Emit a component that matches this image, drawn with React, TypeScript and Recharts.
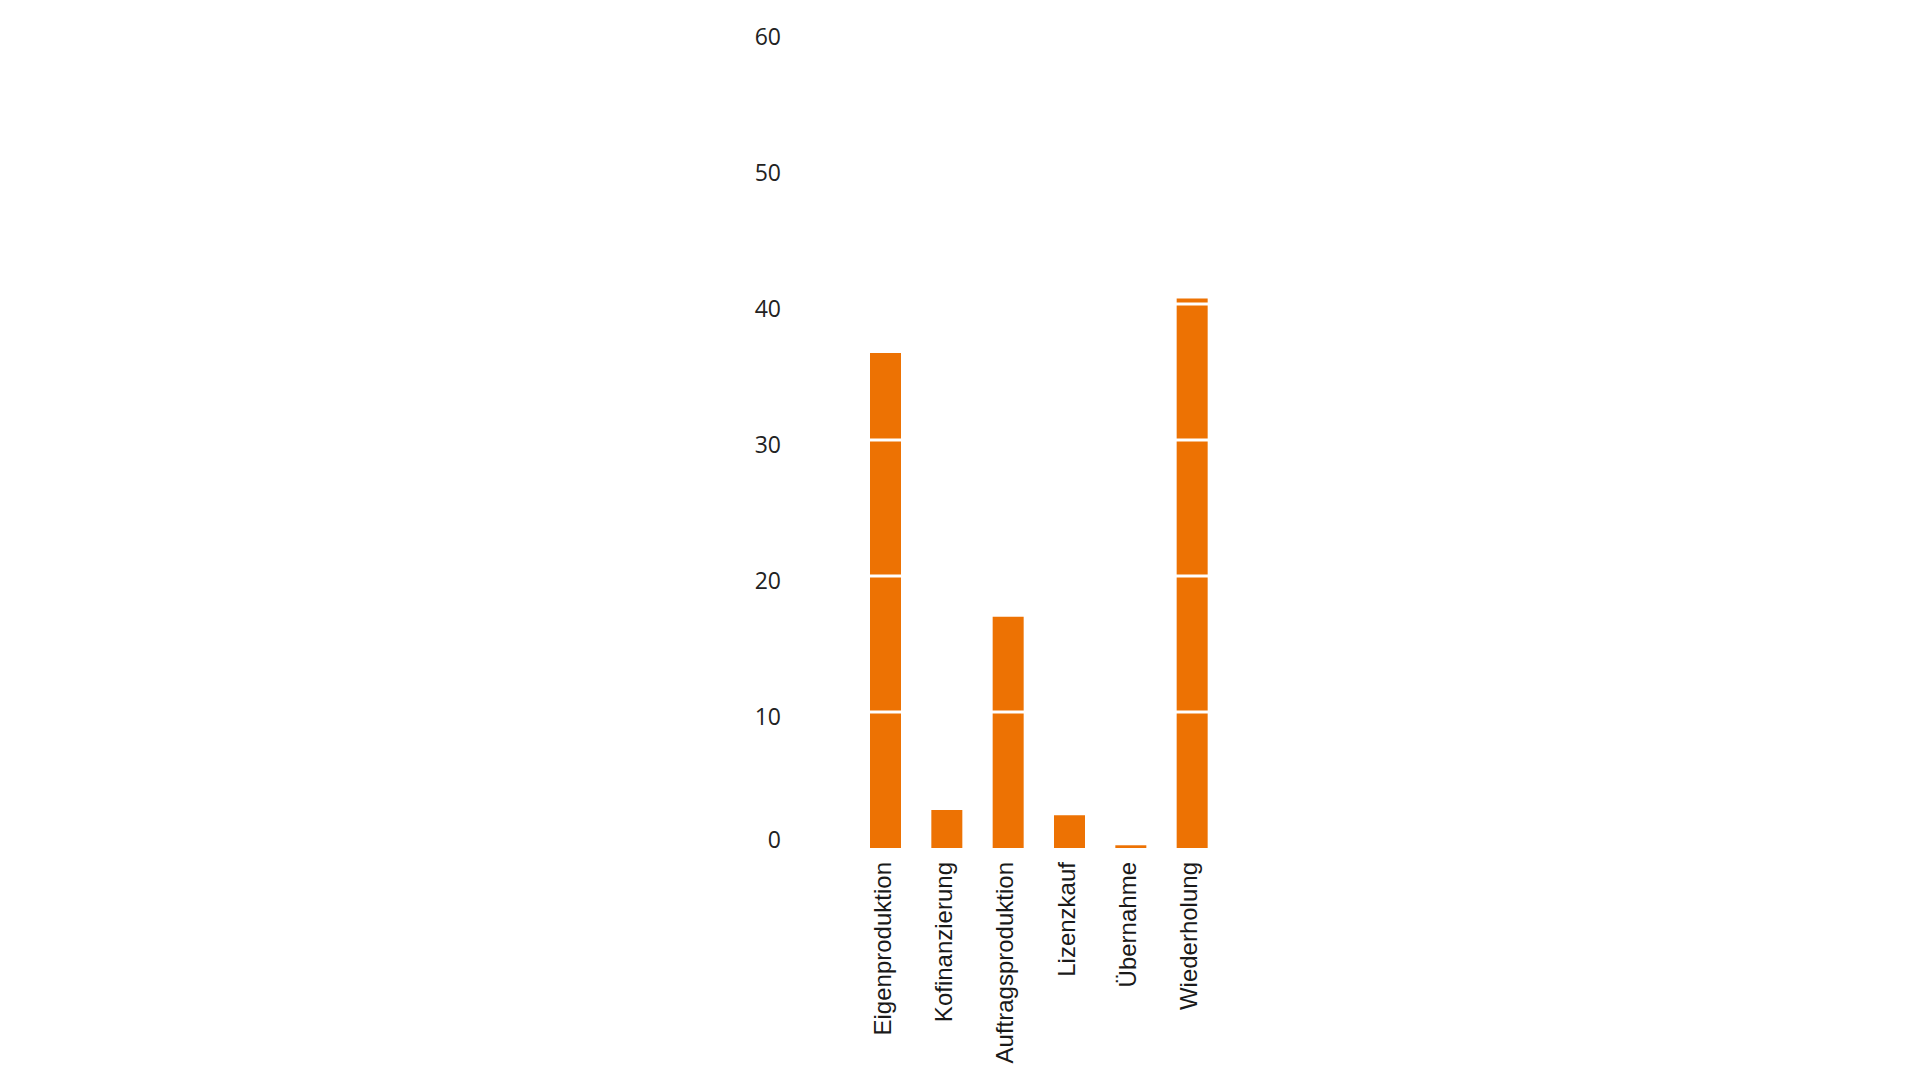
import { Bar, BarChart, ReferenceLine, XAxis, YAxis } from 'recharts'

const categories = ['Eigenproduktion', 'Kofinanzierung', 'Auftragsproduktion', 'Lizenzkauf', 'Übernahme', 'Wiederholung']
const values = [36.4, 2.8, 17.0, 2.4, 0.2, 40.4]
const yTicks = [0, 10, 20, 30, 40, 50, 60]
const gridLines = [10, 20, 30, 40]

const data = categories.map((name, i) => ({ name, value: values[i] }))

function XTick({ x, y, payload }: any) {
  return (
    <text
      transform={`translate(${x},${y}) rotate(-90)`}
      textAnchor="end"
      dy={5}
      fill="#1a1a1a"
      fontSize={24}
      fontFamily="'Liberation Sans', Arial, sans-serif"
    >
      {payload.value}
    </text>
  )
}

function YTick({ x, y, payload }: any) {
  // the zero label sits a little above the baseline in the original
  const shift = payload.value === 0 ? -8 : 5
  return (
    <text
      x={x}
      y={y + shift}
      dy="0.355em"
      textAnchor="end"
      fill="#222"
      fontSize={23}
      fontFamily="'Open Sans', sans-serif"
    >
      {payload.value}
    </text>
  )
}

export default function App() {
  return (
    <div style={{ position: 'fixed', left: 0, top: 0, width: 1920, height: 1080, background: '#fff' }}>
      <BarChart width={1920} height={1080} data={data} margin={{ top: 32, right: 697, left: 0, bottom: 0 }}>
        <XAxis
          dataKey="name"
          height={232}
          axisLine={false}
          tickLine={false}
          tickSize={0}
          tickMargin={14}
          interval={0}
          tick={<XTick />}
        />
        <YAxis
          width={855}
          domain={[0, 60]}
          ticks={yTicks}
          axisLine={false}
          tickLine={false}
          tickSize={0}
          tickMargin={74}
          tick={<YTick />}
        />
        <Bar dataKey="value" fill="#ED7203" barSize={31} isAnimationActive={false} />
        {gridLines.map((v) => (
          <ReferenceLine key={v} y={v} stroke="#fff" strokeWidth={3} />
        ))}
      </BarChart>
    </div>
  )
}
